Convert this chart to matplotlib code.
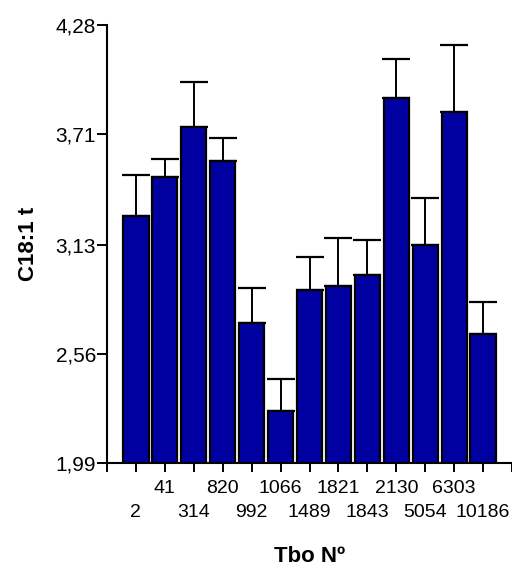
import matplotlib
matplotlib.use("Agg")
import matplotlib.pyplot as plt
import numpy as np

plt.rcParams['font.family'] = ['Liberation Sans', 'DejaVu Sans']

# datos
tbo = ['2', '41', '314', '820', '992', '1066', '1489', '1821', '1843',
       '2130', '5054', '6303', '10186']
media = [3.283, 3.485, 3.747, 3.569, 2.723, 2.263, 2.894, 2.917, 2.974,
         3.898, 3.128, 3.825, 2.664]
err_sup = [3.497, 3.578, 3.984, 3.688, 2.905, 2.428, 3.069, 3.165, 3.154,
           4.101, 3.375, 4.174, 2.833]
yticks = [1.99, 2.56, 3.13, 3.71, 4.28]

err = np.array(err_sup) - np.array(media)
pos = np.arange(1, len(tbo) + 1)

fig = plt.figure(figsize=(5.12, 5.68), dpi=100)
ax = fig.add_axes([0.209, 0.1849, 0.791, 0.7711])

ax.bar(pos, media, width=0.87, color='#0000a0', edgecolor='black',
       linewidth=1.6, zorder=2)
ax.errorbar(pos, media, yerr=[np.zeros_like(err), err], fmt='none',
            ecolor='black', elinewidth=1.4, capsize=10, capthick=1.6, zorder=1)

ax.set_xlim(0, 14)
ax.set_ylim(1.99, 4.28)
ax.set_yticks(yticks)
ax.set_yticklabels([f"{v:.2f}".replace('.', ',') for v in yticks])

# etiquetas alternadas en dos filas
ax.set_xticks(pos[0::2])
ax.set_xticklabels(tbo[0::2])
ax.set_xticks(np.r_[0, pos[1::2], 14], minor=True)
ax.set_xticklabels([''] + tbo[1::2] + [''], minor=True)
ax.tick_params(axis='x', which='major', length=6.5, width=1.4, pad=23,
               labelsize=14)
ax.tick_params(axis='x', which='minor', length=6.5, width=1.4, pad=6,
               labelsize=14)
ax.tick_params(axis='y', length=7, width=1.4, pad=1, labelsize=15)

for s in ['top', 'right']:
    ax.spines[s].set_visible(False)
for s in ['left', 'bottom']:
    ax.spines[s].set_linewidth(1.5)

ax.set_ylabel('C18:1 t', fontsize=16, fontweight='bold')
ax.set_xlabel('Tbo Nº', fontsize=16, fontweight='bold', va='top')
ax.yaxis.set_label_coords(-0.168, 0.5)
ax.xaxis.set_label_coords(0.5, -0.19)

fig.savefig('out.png', dpi=100)
